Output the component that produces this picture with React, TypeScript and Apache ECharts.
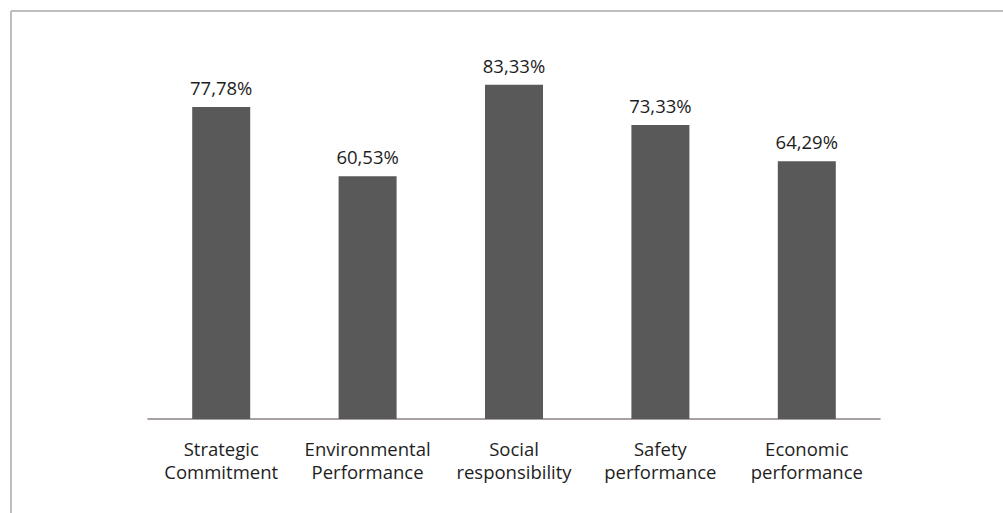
import React, { useEffect, useRef } from "react";
import * as echarts from "echarts";

const categories = [
  "Strategic\nCommitment",
  "Environmental\nPerformance",
  "Social\nresponsibility",
  "Safety\nperformance",
  "Economic\nperformance",
];
const values = [77.78, 60.53, 83.33, 73.33, 64.29];

export default function App() {
  const ref = useRef<HTMLDivElement>(null);
  useEffect(() => {
    if (!ref.current) return;
    const chart = echarts.init(ref.current, null, { renderer: "svg" });
    chart.setOption({
      animation: false,
      backgroundColor: "#ffffff",
      graphic: [
        { type: "line", shape: { x1: 11, y1: 11, x2: 1003, y2: 11 }, style: { stroke: "#bdbdbd", lineWidth: 2 } },
        { type: "line", shape: { x1: 11, y1: 11, x2: 11, y2: 513 }, style: { stroke: "#bdbdbd", lineWidth: 2 } },
      ],
      grid: { left: 148, right: 123, top: 18, bottom: 94 },
      xAxis: {
        type: "category",
        data: categories,
        axisTick: { show: false },
        axisLine: { lineStyle: { color: "#8c8282", width: 1.5 } },
        axisLabel: {
          color: "#1e1e1e",
          fontSize: 18.5,
          fontFamily: "Open Sans",
          lineHeight: 23,
          margin: 18,
          interval: 0,
        },
      },
      yAxis: {
        type: "value",
        min: 0,
        max: 100,
        show: false,
        splitLine: { show: false },
      },
      series: [
        {
          type: "bar",
          data: values,
          barWidth: 58,
          itemStyle: { color: "#595959" },
          label: {
            show: true,
            position: "top",
            distance: 10,
            color: "#1e1e1e",
            fontSize: 18.5,
            fontFamily: "Open Sans",
            formatter: (p: any) => p.value.toFixed(2).replace(".", ",") + "%",
          },
        },
      ],
    });
    return () => chart.dispose();
  }, []);
  return (
    <div
      ref={ref}
      style={{ position: "fixed", left: 0, top: 0, width: 1003, height: 513 }}
    />
  );
}
